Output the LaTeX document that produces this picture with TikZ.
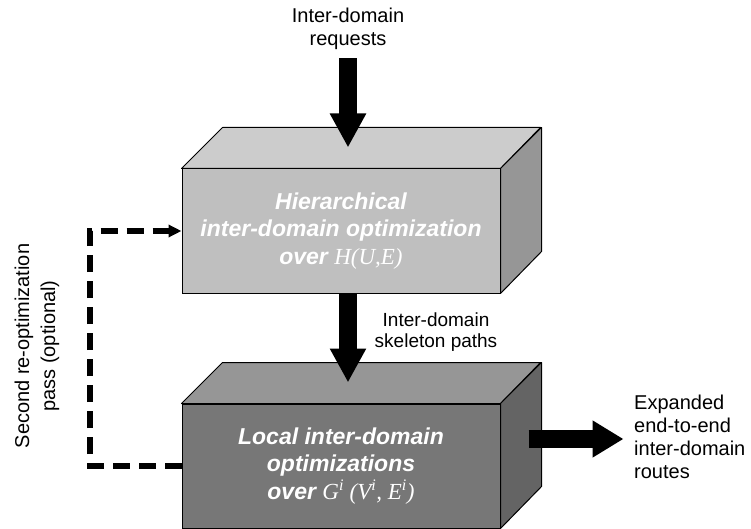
\documentclass[tikz,border=0pt]{standalone}
\usepackage{fontspec}
\setmainfont{Liberation Sans}
\newfontfamily\serifit{Liberation Serif}
\usetikzlibrary{arrows.meta,calc}

\definecolor{hierfront}{RGB}{191,191,191}
\definecolor{hiertop}{RGB}{204,204,204}
\definecolor{hierside}{RGB}{150,150,150}
\definecolor{localfront}{RGB}{119,119,119}
\definecolor{localtop}{RGB}{150,150,150}
\definecolor{localside}{RGB}{100,100,100}

\newcommand\srf[1]{{\serifit\mdseries\itshape #1}}

\tikzset{
  slab/.style={draw=black, line width=1pt, minimum width=318pt,
    minimum height=124pt, inner sep=0pt, align=center, text=white,
    font=\fontsize{23}{27.5}\selectfont\bfseries\itshape},
  face/.style={draw=black, line width=1pt, line join=round},
  textlbl/.style={align=center, inner sep=0pt,
    font=\fontsize{20}{23}\selectfont},
  bigarrow/.style={line width=18pt, -{Triangle[width=34pt,length=34pt]}},
  loopback/.style={line width=6pt, dash pattern=on 17pt off 9pt,
    line join=miter, -{Triangle[width=12pt,length=13pt]}},
}

\begin{document}
\begin{tikzpicture}[x=1pt, y=-1pt]

  \useasboundingbox (0,0) rectangle (751,529); %

  % Front faces of the two stages
  \node[slab, fill=hierfront] (hier) at (341,231) %
  {Hierarchical\\inter-domain optimization\\over \srf{H(U,E)}}; %
  \node[slab, fill=localfront] (local) at (341,466) %
  {Local inter-domain\\optimizations\\over %
    \srf{G\textsuperscript{i} (V\textsuperscript{i}, E\textsuperscript{i})}}; %

  % Top and side faces
  \foreach \b/\tc/\sc in {hier/hiertop/hierside, local/localtop/localside} {
    \draw[face, fill=\tc] (\b.north west) -- ++(41,-41) -- ++(318,0) %
      -- (\b.north east) -- cycle; %
    \draw[face, fill=\sc] (\b.north east) -- ++(41,-41) -- ++(0,124) %
      -- (\b.south east) -- cycle; %
  }

  % Labels
  \node[textlbl] (req) at (348,29) {Inter-domain\\requests}; %
  \node[textlbl, font=\fontsize{19}{21.5}\selectfont] (skel) at (436,332) %
  {Inter-domain\\skeleton paths}; %
  \node[textlbl, anchor=west, align=left] (exp) at (634,437) %
  {Expanded\\end-to-end\\inter-domain\\routes}; %
  \node[textlbl, rotate=90, font=\fontsize{20}{26}\selectfont] (second) %
  at (37,346) {Second re-optimization\\pass (optional)}; %

  % Flow arrows
  \coordinate (hiertip) at ($(hier.north)+(7,-21)$); %
  \draw[bigarrow] ([yshift=-8pt]req.south) -- (hiertip); %
  \draw[bigarrow] ([xshift=7pt]hier.south) %
    -- ([xshift=7pt,yshift=21pt]local.north); %
  \draw[bigarrow, -{Triangle[width=35pt,length=31pt]}] %
    ([xshift=28pt,yshift=27pt]local.east) %
    -- ([xshift=123pt,yshift=27pt]local.east); %

  % Optional second pass
  \draw[loopback] (local.west) -- ++(-92,0) |- (hier.west); %

\end{tikzpicture}
\end{document}
